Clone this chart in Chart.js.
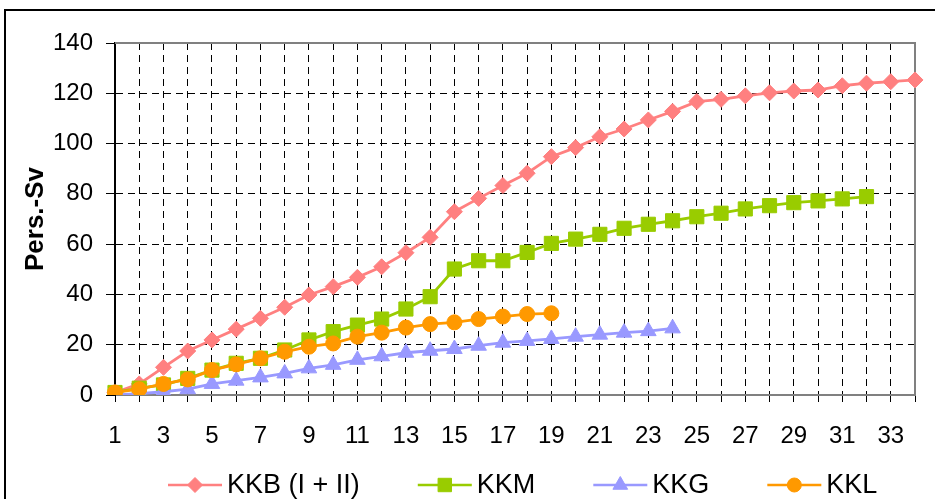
<!DOCTYPE html>
<html>
<head>
<meta charset="utf-8">
<script src="https://cdn.jsdelivr.net/npm/chart.js@4/dist/chart.umd.min.js"></script>
<style>
  html, body { margin: 0; padding: 0; background: #fff; }
  #wrap { width: 935px; height: 499px; }
</style>
</head>
<body>
<div id="wrap"><canvas id="myChart" width="935" height="499"></canvas></div>
<script>
const years = ['1','2','3','4','5','6','7','8','9','10','11','12','13','14','15','16','17',
  '18','19','20','21','22','23','24','25','26','27','28','29','30','31','32','33','34'];

const kkb = [1, 4.4, 11, 17.5, 21.9, 26.2, 30.5, 34.9, 39.8, 43.1, 46.8, 51, 56.6, 62.7, 72.9, 78.2, 83.3,
  88.2, 94.8, 98.4, 102.7, 105.8, 109.4, 112.8, 116.7, 117.6, 119, 120.2, 120.9, 121.3, 123, 124, 124.6, 125.3];
const kkm = [1, 2.7, 4, 6.6, 9.9, 12.6, 14.6, 17.9, 21.9, 25.2, 27.8, 30.2, 34.2, 39.1, 50.1, 53.4, 53.4,
  56.7, 60.3, 62, 63.9, 66.3, 67.9, 69.3, 70.9, 72.3, 74, 75.3, 76.5, 77.2, 78, 78.9];
const kkg = [0, 0.5, 1.3, 2.3, 4.4, 5.7, 7, 8.6, 10.6, 12, 14, 15.4, 16.8, 17.6, 18.3, 19.6, 20.8,
  21.5, 22.3, 23.2, 24, 24.8, 25.4, 26.5];
const kkl = [1, 2.3, 4.4, 6.2, 9.9, 12.2, 14.6, 17.2, 19.2, 20.5, 23.2, 24.8, 26.8, 28.2, 28.9, 30.2, 31.2,
  32.2, 32.5];

const names = ['KKB (I + II)', 'KKM', 'KKG', 'KKL'];
const colors = ['#FF8080', '#99CC00', '#9999FF', '#FF9900'];
const shapes = ['rectRot', 'rect', 'triangle', 'circle'];
const sizes = [8, 10, 9, 7.5];
const yTicks = [0, 20, 40, 60, 80, 100, 120, 140];

const FONT = "'Liberation Sans', Arial, sans-serif";

function makeSet(i, data) {
    return {
        label: names[i],
        data: data,
        borderColor: colors[i],
        backgroundColor: colors[i],
        pointBackgroundColor: colors[i],
        pointBorderColor: colors[i],
        pointStyle: shapes[i],
        pointRadius: sizes[i],
        pointBorderWidth: 1,
        borderWidth: 2.8,
        tension: 0,
        order: 4 - i
    };
}

// gray frame on top/right of the plot + outer chart border
const framePlugin = {
    id: 'frame',
    beforeDraw(chart) {
        const c = chart.ctx;
        c.save();
        c.fillStyle = '#fff';
        c.fillRect(0, 0, chart.width, chart.height);
        c.restore();
    },
    beforeDatasetsDraw(chart) {
        const c = chart.ctx;
        const a = chart.chartArea;
        c.save();
        c.strokeStyle = '#808080';
        c.lineWidth = 2;
        c.beginPath();
        c.moveTo(a.left, a.top);
        c.lineTo(a.right, a.top);
        c.lineTo(a.right, a.bottom);
        c.stroke();
        c.restore();
    },
    afterDraw(chart) {
        const c = chart.ctx;
        c.save();
        c.strokeStyle = '#000';
        c.lineWidth = 2;
        c.strokeRect(5, 10, chart.width + 20, chart.height + 20);
        c.restore();
    }
};

// excel style legend: line with marker, text on the right
const legendPlugin = {
    id: 'lineLegend',
    afterDraw(chart) {
        const c = chart.ctx;
        let x = 168;
        const y = 485;
        c.save();
        c.font = '27px ' + FONT;
        c.textBaseline = 'middle';
        c.textAlign = 'left';
        chart.data.datasets.forEach((ds, i) => {
            c.strokeStyle = ds.borderColor;
            c.lineWidth = 2.5;
            c.beginPath();
            c.moveTo(x, y);
            c.lineTo(x + 54, y);
            c.stroke();
            c.fillStyle = ds.pointBackgroundColor;
            c.lineWidth = 1;
            Chart.helpers.drawPoint(c, {
                pointStyle: ds.pointStyle, radius: ds.pointRadius - 0.5, rotation: 0, borderWidth: 1
            }, x + 27, y);
            c.fillStyle = '#000';
            c.fillText(ds.label, x + 59, y + 1);
            x += 59 + c.measureText(ds.label).width + 58;
        });
        c.restore();
    }
};

const ctx = document.getElementById('myChart');

new Chart(ctx, {
    type: 'line',
    data: {
        labels: years,
        datasets: [makeSet(0, kkb), makeSet(1, kkm), makeSet(2, kkg), makeSet(3, kkl)]
    },
    options: {
        responsive: false,
        animation: false,
        layout: { padding: { left: 8, top: 43, right: 18, bottom: 0 } },
        plugins: {
            legend: { display: false },
            tooltip: { enabled: false }
        },
        scales: {
            x: {
                type: 'category',
                offset: false,
                afterFit: (s) => { s.height = 104; },
                ticks: {
                    autoSkip: false,
                    maxRotation: 0,
                    color: '#000',
                    font: { family: FONT, size: 24 },
                    padding: 20,
                    callback: (v, i) => (i % 2 === 0 ? years[i] : '')
                },
                grid: {
                    color: (c) => (c.index === 0 || c.index === years.length - 1 ? 'rgba(0,0,0,0)' : '#000'),
                    lineWidth: 1,
                    tickLength: 7,
                    tickColor: '#000'
                },
                border: { color: '#808080', width: 2, dash: [7, 5] }
            },
            y: {
                min: 0,
                max: 140,
                afterFit: (s) => { s.width = 107; },
                afterBuildTicks: (s) => { s.ticks = yTicks.map(v => ({ value: v })); },
                ticks: {
                    color: '#000',
                    font: { family: FONT, size: 24 },
                    padding: 13
                },
                grid: {
                    color: (c) => (c.tick && (c.tick.value === 0 || c.tick.value === 140) ? 'rgba(0,0,0,0)' : '#000'),
                    lineWidth: 1,
                    tickLength: 9,
                    tickColor: '#000'
                },
                border: { color: '#000', width: 2, dash: [7, 5] },
                title: {
                    display: true,
                    text: 'Pers.-Sv',
                    color: '#000',
                    font: { family: FONT, size: 26, weight: 'bold' },
                    padding: { top: 12, bottom: 0 }
                }
            }
        }
    },
    plugins: [framePlugin, legendPlugin]
});
</script>
</body>
</html>
